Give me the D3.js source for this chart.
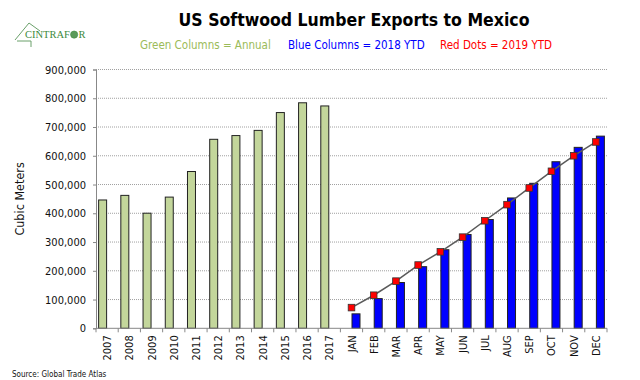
<!DOCTYPE html>
<html>
<head>
<meta charset="utf-8">
<script src="https://cdn.jsdelivr.net/npm/d3@7"></script>
<style>
  html, body { margin: 0; padding: 0; background: #fff; }
  svg { display: block; }
  text { font-family: "DejaVu Sans Condensed", "DejaVu Sans", sans-serif; }
</style>
</head>
<body>
<svg id="chart" width="640" height="380"></svg>
<script>
// ---- data ----
const years = ["2007","2008","2009","2010","2011","2012","2013","2014","2015","2016","2017"];
const annualValues = [448000, 464000, 402000, 458000, 547000, 659000, 672000, 690000, 752000, 786000, 775000];
const months = ["JAN","FEB","MAR","APR","MAY","JUN","JUL","AUG","SEP","OCT","NOV","DEC"];
const ytd2018Values = [52000, 105000, 161000, 216000, 275000, 328000, 380000, 455000, 506000, 581000, 631000, 670000];
const ytd2019Values = [72000, 115000, 164000, 220000, 266000, 317000, 374000, 430000, 488000, 546000, 600000, 648000];
const yTicks = [0, 100000, 200000, 300000, 400000, 500000, 600000, 700000, 800000, 900000];

(function () {
const svg = d3.select("#chart");
const pL = 96, pR = 607, pT = 69.5, pB = 328.3;

const categories = years.concat(months);
const x = d3.scaleBand().domain(categories).range([pL, pR]).paddingInner(0).paddingOuter(0);
const slot = d3.scaleBand().domain(["annual", "ytd"]).range([0, x.bandwidth()]).paddingInner(0).paddingOuter(0.235);
const y = d3.scaleLinear().domain([0, 900000]).range([pB, pT]);

// gridlines
svg.append("g").selectAll("line").data(yTicks.filter(d => d > 0)).join("line")
  .attr("x1", pL).attr("x2", pR)
  .attr("y1", d => y(d)).attr("y2", d => y(d))
  .attr("stroke", "#a0a0a0").attr("stroke-width", 1).attr("stroke-dasharray", "1,1");

// y axis
const yAxis = svg.append("g").attr("transform", `translate(${pL},0)`)
  .call(d3.axisLeft(y).tickValues(yTicks).tickFormat(d3.format(",")).tickSize(3).tickPadding(7));
yAxis.select(".domain").attr("stroke", "#888");
yAxis.selectAll(".tick line").attr("stroke", "#888");
yAxis.selectAll("text").attr("font-size", "11px").attr("fill", "#111")
  .style("font-family", '"DejaVu Sans Condensed", sans-serif');

// annual bars
const annual = years.map((c, i) => ({c, v: annualValues[i]}));
svg.append("g").selectAll("rect").data(annual).join("rect")
  .attr("x", d => x(d.c) + slot("annual") + 0.5)
  .attr("y", d => y(d.v) + 0.5)
  .attr("width", slot.bandwidth() - 1)
  .attr("height", d => y(0) - y(d.v) - 0.5)
  .attr("fill", "#c3d69b").attr("stroke", "#222").attr("stroke-width", 1);

// 2018 bars
const y18 = months.map((c, i) => ({c, v: ytd2018Values[i]}));
svg.append("g").selectAll("rect").data(y18).join("rect")
  .attr("x", d => x(d.c) + slot("ytd") + 0.5)
  .attr("y", d => y(d.v) + 0.5)
  .attr("width", slot.bandwidth() - 1)
  .attr("height", d => y(0) - y(d.v) - 0.5)
  .attr("fill", "#0000ff").attr("stroke", "#222").attr("stroke-width", 1);

// x axis baseline + ticks at category boundaries
svg.append("line").attr("x1", pL).attr("x2", pR).attr("y1", pB).attr("y2", pB)
  .attr("stroke", "#888");
const bounds = categories.map(c => x(c)).concat([pR]);
svg.append("g").selectAll("line").data(bounds).join("line")
  .attr("x1", d => d).attr("x2", d => d).attr("y1", pB).attr("y2", pB + 4)
  .attr("stroke", "#888");

// x labels
svg.append("g").selectAll("text").data(categories).join("text")
  .attr("transform", d => `translate(${x(d) + x.bandwidth() / 2 + 4},${pB + 7}) rotate(-90)`)
  .attr("text-anchor", "end")
  .attr("font-size", "11px").attr("fill", "#111")
  .text(d => d);

// 2019 line and dots
const y19 = months.map((c, i) => ({c, v: ytd2019Values[i]}));
const line = d3.line().x(d => x(d.c) + x.bandwidth() / 2).y(d => y(d.v));
svg.append("path").datum(y19).attr("d", line)
  .attr("fill", "none").attr("stroke", "#5a5a5a").attr("stroke-width", 1.5);
svg.append("g").selectAll("rect").data(y19).join("rect")
  .attr("x", d => x(d.c) + x.bandwidth() / 2 - 3.3)
  .attr("y", d => y(d.v) - 3.3)
  .attr("width", 6.6).attr("height", 6.6)
  .attr("fill", "#ff0000").attr("stroke", "#333").attr("stroke-width", 0.8);

// y axis title
svg.append("text")
  .attr("transform", `translate(24,${(pT + pB) / 2}) rotate(-90)`)
  .attr("text-anchor", "middle").attr("font-size", "12.5px").attr("fill", "#111")
  .text("Cubic Meters");

// title
svg.append("text").attr("x", 354).attr("y", 26).attr("text-anchor", "middle")
  .attr("font-size", "17.5px").attr("font-weight", "bold").attr("fill", "#000")
  .text("US Softwood Lumber Exports to Mexico");

// subtitle legend
svg.append("text").attr("x", 140).attr("y", 49.3).attr("font-size", "11.5px").attr("fill", "#9bbb59")
  .text("Green Columns = Annual");
svg.append("text").attr("x", 288).attr("y", 49.3).attr("font-size", "11.5px").attr("fill", "#0000ff")
  .text("Blue Columns = 2018 YTD");
svg.append("text").attr("x", 440).attr("y", 49.3).attr("font-size", "11.5px").attr("fill", "#ff0000")
  .text("Red Dots = 2019 YTD");

// source
svg.append("text").attr("x", 12).attr("y", 377).attr("font-size", "8px").attr("fill", "#111")
  .text("Source: Global Trade Atlas");

// logo
const logo = svg.append("g");
logo.append("path")
  .attr("d", "M29,23 L15,40 M29,23 L40,31 M17,41 L31,41 L31,47")
  .attr("fill", "none").attr("stroke", "#6aa06a").attr("stroke-width", 1);
const lt = logo.append("text").attr("x", 25).attr("y", 38.3)
  .attr("font-size", "10.5px").attr("fill", "#3d8a3d")
  .style("font-family", '"Liberation Serif", serif')
  .text("CINTRAF");
const w1 = lt.node().getComputedTextLength();
logo.append("circle").attr("cx", 25 + w1 + 4.2).attr("cy", 34.6).attr("r", 3.6)
  .attr("fill", "#5a9a5a").attr("stroke", "#3d8a3d").attr("stroke-width", 0.6);
logo.append("text").attr("x", 25 + w1 + 8.6).attr("y", 38.3)
  .attr("font-size", "10.5px").attr("fill", "#3d8a3d")
  .style("font-family", '"Liberation Serif", serif')
  .text("R");
})();
</script>
</body>
</html>
